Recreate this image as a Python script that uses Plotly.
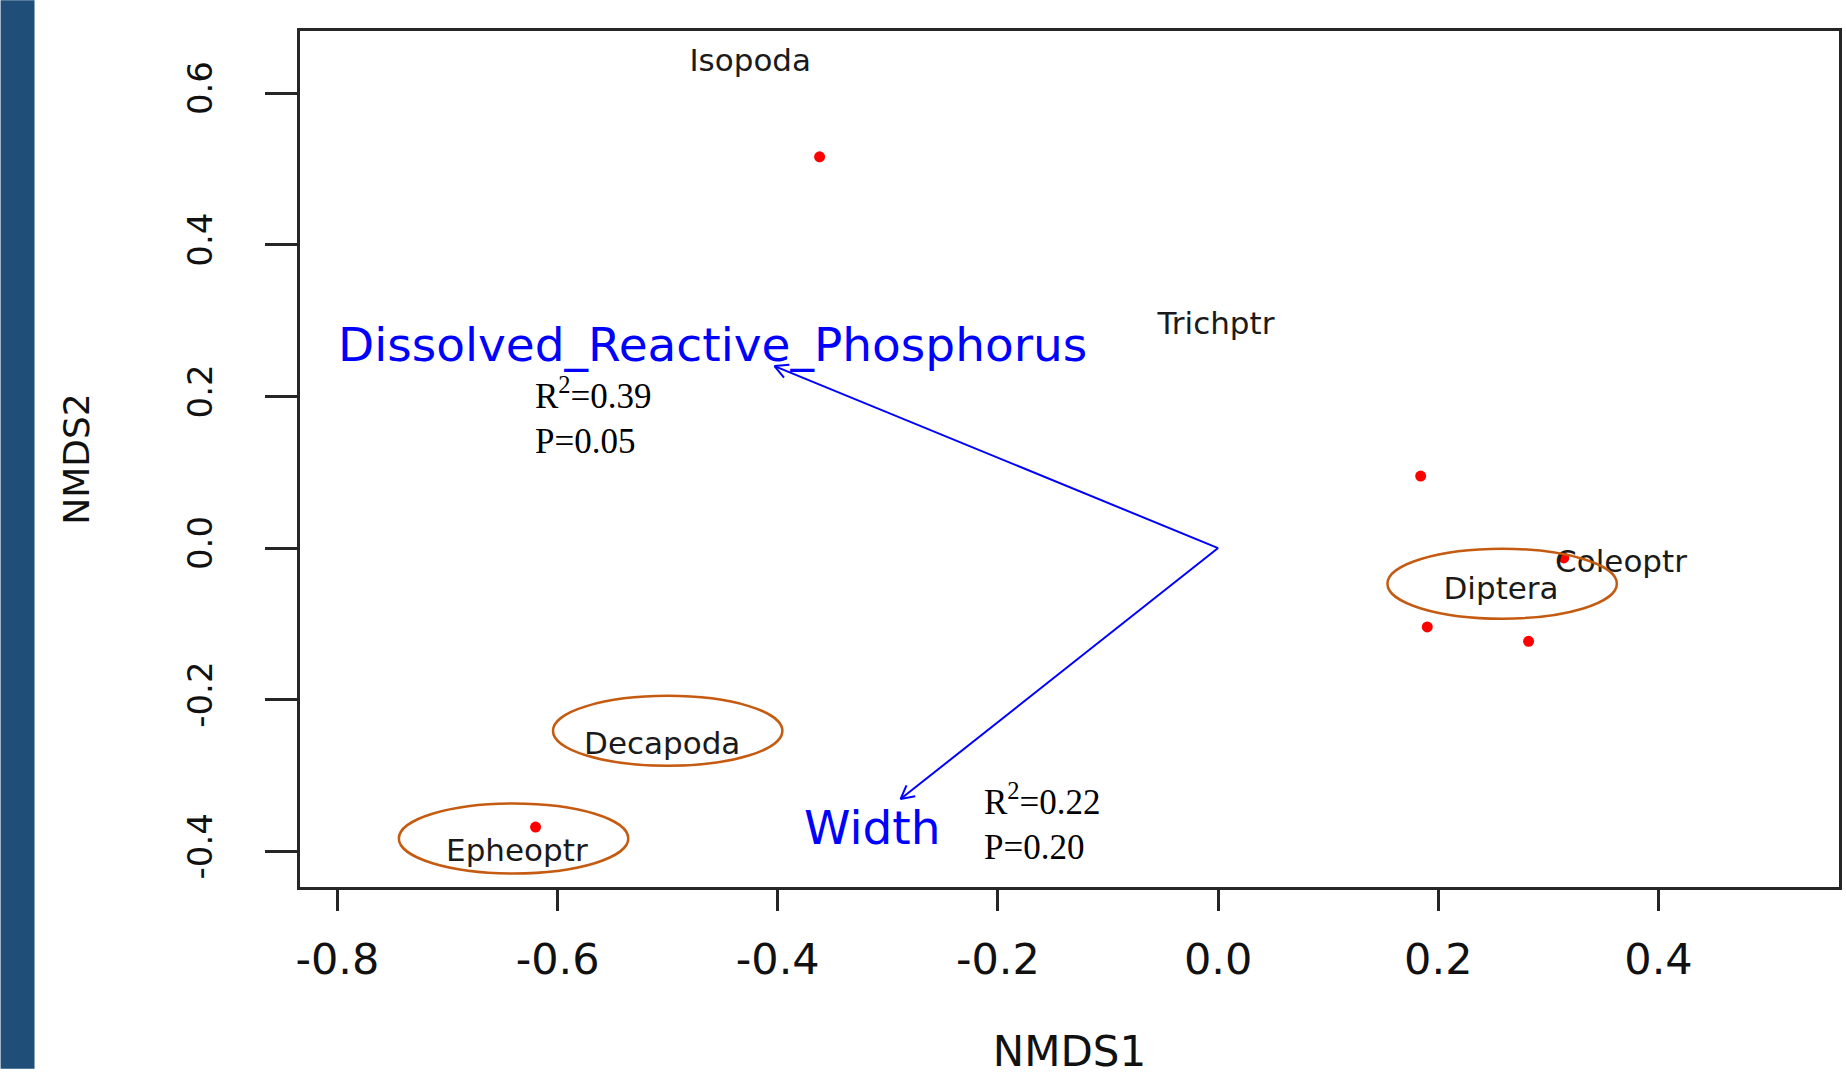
import numpy as np
import plotly.graph_objects as go

# ---------------- data ----------------
# site scores (red points)
site_x = [-0.362, 0.184, 0.190, 0.282, 0.314, -0.620]
site_y = [0.516, 0.095, -0.104, -0.123, -0.013, -0.368]

# species scores (text labels)
species = ["Isopoda", "Trichptr", "Coleoptr", "Diptera", "Decapoda", "Epheoptr"]
species_x = [-0.425, -0.002, 0.366, 0.257, -0.505, -0.637]
species_y = [0.640, 0.293, -0.021, -0.057, -0.262, -0.403]

# fitted environmental vectors
env_vars = ["Dissolved_Reactive_Phosphorus", "Width"]
env_x = [-0.403, -0.2885]
env_y = [0.240, -0.331]
env_label_x = [-0.459, -0.314]
env_label_y = [0.269, -0.368]
env_r2 = ["0.39", "0.22"]
env_p = ["0.05", "0.20"]
stat_x = [-0.6225, -0.2146]
stat_y = [0.1745, -0.3607]

# highlighted groups (ellipses)
highlight = ["Diptera", "Decapoda", "Epheoptr"]
ell_cx = [0.258, -0.500, -0.640]
ell_cy = [-0.047, -0.241, -0.383]
ell_rx = [0.1042, 0.1042, 0.1042]
ell_ry = [0.0461, 0.0461, 0.0461]

x_ticks = [-0.8, -0.6, -0.4, -0.2, 0.0, 0.2, 0.4]
x_ticktext = ["-0.8", "-0.6", "-0.4", "-0.2", "0.0", "0.2", "0.4"]
y_ticks = [-0.4, -0.2, 0.0, 0.2, 0.4, 0.6]
y_ticktext = ["-0.4", "-0.2", "0.0", "0.2", "0.4", "0.6"]
x_range = [-0.834, 0.564]
y_range = [-0.447, 0.682]

# ---------------- layout constants ----------------
FIG_W, FIG_H = 1846, 1076
M_L, M_R, M_T, M_B = 300, 4, 31, 183
PLOT_W = FIG_W - M_L - M_R
PLOT_H = FIG_H - M_T - M_B
kx = PLOT_W / (x_range[1] - x_range[0])
ky = PLOT_H / (y_range[1] - y_range[0])

BLUE = "#0000FF"
ELL = "#C55A11"
AXC = "#262626"
SANS = "DejaVu Sans, Arial, sans-serif"
SERIF = "Liberation Serif, Times New Roman, serif"

fig = go.Figure()

# arrows (shaft + open V head, computed in pixel space)
head_len = 15.0
head_ang = np.deg2rad(28)
for tx, ty in zip(env_x, env_y):
    v = np.array([tx * kx, ty * ky])
    u = v / np.linalg.norm(v)
    xs = [0.0, tx, None]
    ys = [0.0, ty, None]
    for s in (1, -1):
        c, sn = np.cos(s * head_ang), np.sin(s * head_ang)
        r = np.array([c * u[0] - sn * u[1], sn * u[0] + c * u[1]])
        b = v - head_len * r
        xs += [b[0] / kx, tx, None]
        ys += [b[1] / ky, ty, None]
    fig.add_trace(go.Scatter(x=xs, y=ys, mode="lines",
                             line=dict(color=BLUE, width=2),
                             hoverinfo="skip", showlegend=False))

# site points
fig.add_trace(go.Scatter(x=site_x, y=site_y, mode="markers",
                         marker=dict(color="#FF0000", size=11, line=dict(width=0)),
                         showlegend=False))

# species labels
fig.add_trace(go.Scatter(x=species_x, y=species_y, mode="text", text=species,
                         textposition="middle center",
                         textfont=dict(family=SANS, size=31, color="#1a1a1a"),
                         showlegend=False))

shapes = []
# ellipses
for cx, cy, rx, ry in zip(ell_cx, ell_cy, ell_rx, ell_ry):
    shapes.append(dict(type="circle", xref="x", yref="y",
                       x0=cx - rx, x1=cx + rx, y0=cy - ry, y1=cy + ry,
                       line=dict(color=ELL, width=2.5)))
# dark side bar
shapes.append(dict(type="rect", xref="paper", yref="paper",
                   x0=-M_L / PLOT_W, x1=(34 - M_L) / PLOT_W,
                   y0=-M_B / PLOT_H, y1=(PLOT_H + M_T) / PLOT_H,
                   fillcolor="#1F4E79", line=dict(width=0), layer="below"))

annotations = []
for name, lx, ly in zip(env_vars, env_label_x, env_label_y):
    annotations.append(dict(x=lx, y=ly, xref="x", yref="y", text=name,
                            showarrow=False, xanchor="center", yanchor="middle",
                            font=dict(family=SANS, size=47, color=BLUE)))
for r2, p, sx, sy in zip(env_r2, env_p, stat_x, stat_y):
    annotations.append(dict(x=sx, y=sy, xref="x", yref="y",
                            text=f"R<sup>2</sup>={r2}<br>P={p}",
                            showarrow=False, xanchor="left", yanchor="middle",
                            align="left",
                            font=dict(family=SERIF, size=35, color="#000000")))

fig.update_layout(
    width=FIG_W, height=FIG_H, autosize=False,
    margin=dict(l=M_L, r=M_R, t=M_T, b=M_B),
    paper_bgcolor="white", plot_bgcolor="white",
    shapes=shapes, annotations=annotations,
    showlegend=False,
    xaxis=dict(range=x_range, tickvals=x_ticks, ticktext=x_ticktext,
               showgrid=False, zeroline=False,
               showline=True, mirror=True, linecolor=AXC, linewidth=2.5,
               ticks="outside", ticklen=21, tickwidth=2.5, tickcolor=AXC,
               ticklabelstandoff=12,
               tickfont=dict(family=SANS, size=43, color="#111111"),
               title=dict(text="NMDS1", standoff=58,
                          font=dict(family=SANS, size=42, color="#111111"))),
    yaxis=dict(range=y_range, tickvals=y_ticks, ticktext=y_ticktext,
               showgrid=False, zeroline=False,
               showline=True, mirror=True, linecolor=AXC, linewidth=2.5,
               ticks="outside", ticklen=32, tickwidth=2.5, tickcolor=AXC,
               tickangle=-90, ticklabelstandoff=40,
               tickfont=dict(family=SANS, size=34, color="#111111"),
               title=dict(text="NMDS2", standoff=80,
                          font=dict(family=SANS, size=36, color="#111111"))),
)

fig.write_html("out.html")
